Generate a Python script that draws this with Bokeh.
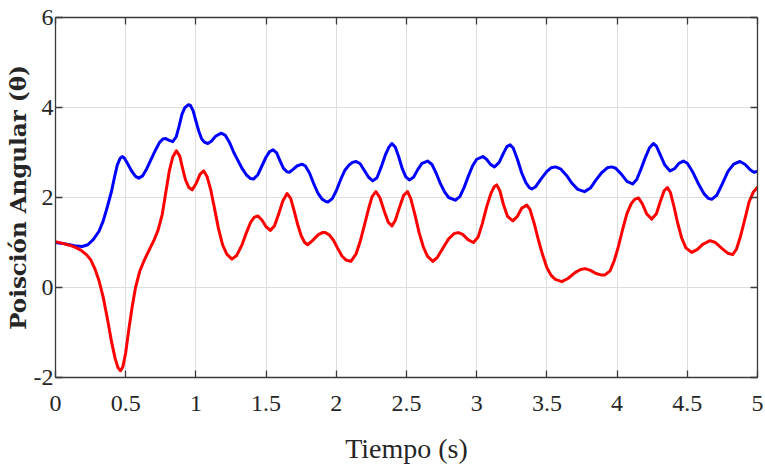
from bokeh.plotting import figure
from bokeh.models import LinearAxis, FixedTicker, Range1d
from bokeh.embed import file_html
from bokeh.resources import INLINE

# ---------------- data ----------------
x_ticks = [0, 0.5, 1, 1.5, 2, 2.5, 3, 3.5, 4, 4.5, 5]
x_tick_labels = ["0", "0.5", "1", "1.5", "2", "2.5", "3", "3.5", "4", "4.5", "5"]
y_ticks = [-2, 0, 2, 4, 6]
y_tick_labels = ["-2", "0", "2", "4", "6"]

t_blue = [0.00, 0.05, 0.10, 0.15, 0.19, 0.23, 0.27, 0.31, 0.34, 0.37, 0.40, 0.42, 0.44, 0.46, 0.475,
          0.49, 0.51, 0.54, 0.57, 0.593, 0.62, 0.65, 0.68, 0.71, 0.74, 0.765, 0.785, 0.81, 0.835,
          0.86, 0.88, 0.90, 0.92, 0.945, 0.96, 0.98, 1.00, 1.02, 1.04, 1.06, 1.085, 1.11, 1.14,
          1.18, 1.21, 1.24, 1.27, 1.30, 1.33, 1.36, 1.39, 1.41, 1.44, 1.47, 1.50, 1.525, 1.55,
          1.575, 1.60, 1.625, 1.65, 1.665, 1.69, 1.72, 1.755, 1.78, 1.81, 1.84, 1.87, 1.90, 1.925,
          1.94, 1.97, 2.00, 2.03, 2.06, 2.09, 2.115, 2.142, 2.17, 2.20, 2.23, 2.26, 2.29, 2.32,
          2.35, 2.375, 2.396, 2.42, 2.445, 2.47, 2.495, 2.52, 2.55, 2.58, 2.61, 2.65, 2.68, 2.71,
          2.74, 2.77, 2.80, 2.847, 2.88, 2.91, 2.94, 2.97, 3.00, 3.044, 3.07, 3.10, 3.127, 3.16,
          3.19, 3.215, 3.238, 3.26, 3.29, 3.32, 3.35, 3.375, 3.393, 3.42, 3.46, 3.50, 3.53, 3.563,
          3.60, 3.64, 3.68, 3.72, 3.768, 3.81, 3.85, 3.89, 3.93, 3.962, 3.99, 4.03, 4.07, 4.111,
          4.14, 4.17, 4.20, 4.23, 4.258, 4.28, 4.31, 4.34, 4.377, 4.41, 4.44, 4.472, 4.50, 4.54,
          4.58, 4.62, 4.65, 4.674, 4.71, 4.75, 4.79, 4.83, 4.875, 4.91, 4.95, 4.975, 5.00]
y_blue = [1.00, 0.98, 0.95, 0.92, 0.91, 0.95, 1.07, 1.25, 1.48, 1.80, 2.15, 2.45, 2.72, 2.87, 2.91,
          2.88, 2.77, 2.60, 2.47, 2.43, 2.48, 2.64, 2.84, 3.04, 3.22, 3.30, 3.31, 3.27, 3.24,
          3.35, 3.58, 3.84, 3.99, 4.06, 4.05, 3.93, 3.70, 3.48, 3.31, 3.23, 3.20, 3.25, 3.36,
          3.43, 3.38, 3.22, 3.00, 2.82, 2.64, 2.50, 2.42, 2.41, 2.50, 2.70, 2.90, 3.02, 3.06,
          2.99, 2.81, 2.64, 2.57, 2.56, 2.62, 2.70, 2.74, 2.70, 2.54, 2.30, 2.09, 1.96, 1.91,
          1.90, 1.97, 2.15, 2.39, 2.60, 2.72, 2.78, 2.80, 2.75, 2.60, 2.45, 2.37, 2.44, 2.68,
          2.95, 3.12, 3.20, 3.12, 2.90, 2.64, 2.46, 2.39, 2.45, 2.62, 2.76, 2.81, 2.74, 2.55,
          2.32, 2.13, 2.00, 1.94, 2.02, 2.22, 2.47, 2.70, 2.85, 2.91, 2.85, 2.73, 2.68, 2.78,
          2.98, 3.13, 3.17, 3.10, 2.85, 2.55, 2.33, 2.22, 2.19, 2.24, 2.42, 2.58, 2.66, 2.68,
          2.63, 2.49, 2.31, 2.18, 2.13, 2.21, 2.39, 2.55, 2.66, 2.68, 2.65, 2.52, 2.36, 2.30,
          2.40, 2.63, 2.88, 3.10, 3.20, 3.14, 2.93, 2.72, 2.59, 2.64, 2.76, 2.81, 2.76, 2.56,
          2.30, 2.08, 1.98, 1.96, 2.05, 2.31, 2.58, 2.74, 2.80, 2.74, 2.61, 2.56, 2.58]

t_red = [0.00, 0.05, 0.10, 0.15, 0.18, 0.22, 0.25, 0.28, 0.31, 0.34, 0.37, 0.40, 0.425, 0.445, 0.463,
         0.48, 0.50, 0.52, 0.545, 0.57, 0.60, 0.63, 0.665, 0.70, 0.73, 0.76, 0.785, 0.81, 0.835,
         0.861, 0.885, 0.905, 0.925, 0.95, 0.973, 1.00, 1.03, 1.056, 1.08, 1.105, 1.13, 1.16,
         1.19, 1.22, 1.257, 1.29, 1.33, 1.36, 1.39, 1.415, 1.442, 1.47, 1.50, 1.53, 1.56, 1.59,
         1.62, 1.649, 1.675, 1.70, 1.725, 1.75, 1.775, 1.796, 1.83, 1.87, 1.90, 1.922, 1.95,
         1.98, 2.01, 2.04, 2.07, 2.104, 2.14, 2.17, 2.20, 2.23, 2.255, 2.282, 2.31, 2.34, 2.37,
         2.396, 2.42, 2.45, 2.48, 2.507, 2.53, 2.56, 2.59, 2.62, 2.65, 2.688, 2.72, 2.76, 2.80,
         2.84, 2.87, 2.90, 2.94, 2.977, 3.01, 3.04, 3.07, 3.10, 3.125, 3.143, 3.165, 3.19, 3.22,
         3.257, 3.29, 3.32, 3.357, 3.38, 3.41, 3.44, 3.47, 3.50, 3.53, 3.56, 3.606, 3.65, 3.70,
         3.74, 3.772, 3.81, 3.85, 3.885, 3.914, 3.95, 3.98, 4.01, 4.04, 4.07, 4.10, 4.125, 4.152,
         4.18, 4.21, 4.247, 4.28, 4.31, 4.335, 4.358, 4.38, 4.405, 4.43, 4.46, 4.49, 4.531, 4.57,
         4.61, 4.662, 4.70, 4.75, 4.79, 4.823, 4.85, 4.88, 4.91, 4.94, 4.97, 5.00]
y_red = [1.02, 0.98, 0.94, 0.88, 0.83, 0.73, 0.62, 0.42, 0.15, -0.22, -0.70, -1.22, -1.58, -1.78, -1.85,
         -1.76, -1.45, -0.98, -0.45, 0.00, 0.36, 0.59, 0.82, 1.04, 1.27, 1.62, 2.10, 2.58, 2.90,
         3.04, 2.92, 2.65, 2.40, 2.22, 2.17, 2.30, 2.52, 2.59, 2.46, 2.18, 1.80, 1.32,
         0.95, 0.74, 0.63, 0.71, 0.96, 1.22, 1.45, 1.56, 1.59, 1.50, 1.35, 1.27, 1.37, 1.64,
         1.93, 2.09, 1.98, 1.70, 1.40, 1.15, 1.00, 0.95, 1.04, 1.17, 1.22, 1.22, 1.17,
         1.05, 0.87, 0.70, 0.61, 0.58, 0.74, 1.02, 1.38, 1.75, 2.02, 2.13, 2.00, 1.71, 1.45,
         1.37, 1.49, 1.78, 2.05, 2.13, 1.98, 1.62, 1.22, 0.90, 0.69, 0.58, 0.67, 0.88, 1.08,
         1.20, 1.22, 1.18, 1.06, 1.00, 1.12, 1.42, 1.78, 2.08, 2.24, 2.28, 2.15, 1.85, 1.58,
         1.48, 1.58, 1.76, 1.83, 1.73, 1.42, 1.05, 0.72, 0.44, 0.27, 0.18, 0.13, 0.20, 0.33,
         0.40, 0.42, 0.38, 0.31, 0.28, 0.28, 0.37, 0.60, 0.92, 1.30, 1.64, 1.86, 1.96, 1.99,
         1.86, 1.64, 1.52, 1.64, 1.93, 2.15, 2.22, 2.11, 1.80, 1.45, 1.10, 0.88, 0.78, 0.84,
         0.96, 1.04, 1.00, 0.86, 0.76, 0.73, 0.85, 1.15, 1.52, 1.90, 2.12, 2.23]

x_label = "Tiempo (s)"
y_label = "Poisción Angular (θ)"

# ---------------- figure ----------------
SERIF = "Liberation Serif"
AXIS_COLOR = "#3a3a3a"

p = figure(width=765, height=474, output_backend="svg", toolbar_location=None,
           x_range=Range1d(0, 5), y_range=Range1d(-2, 6),
           min_border_left=55, min_border_right=8, min_border_top=17, min_border_bottom=97,
           background_fill_color="white", border_fill_color="white")
p.outline_line_color = None

xt = FixedTicker(ticks=x_ticks)
yt = FixedTicker(ticks=y_ticks)


def style_axis(ax, ticker, labels=None):
    ax.ticker = ticker
    ax.axis_line_color = AXIS_COLOR
    ax.axis_line_width = 1.3
    ax.major_tick_line_color = AXIS_COLOR
    ax.major_tick_line_width = 1.3
    ax.major_tick_in = 7
    ax.major_tick_out = 0
    ax.minor_tick_line_color = None
    if labels is not None:
        ax.major_label_overrides = labels
        ax.major_label_text_font = SERIF
        ax.major_label_text_font_size = "24px"
        ax.major_label_text_color = "#262626"
    else:
        ax.major_label_text_font_size = "0px"
        ax.major_label_standoff = 0
        ax.major_label_overrides = {t: "" for t in ticker.ticks}


style_axis(p.xaxis[0], xt, dict(zip(x_ticks, x_tick_labels)))
style_axis(p.yaxis[0], yt, dict(zip(y_ticks, y_tick_labels)))

p.xaxis[0].major_label_standoff = 18
p.xaxis[0].axis_label = x_label
p.xaxis[0].axis_label_text_font = SERIF
p.xaxis[0].axis_label_text_font_size = "28px"
p.xaxis[0].axis_label_text_font_style = "normal"
p.xaxis[0].axis_label_text_color = "#262626"
p.xaxis[0].axis_label_standoff = 19

p.yaxis[0].major_label_standoff = 2
p.yaxis[0].axis_label = y_label
p.yaxis[0].axis_label_text_font = "DejaVu Serif"
p.yaxis[0].axis_label_text_font_size = "23px"
p.yaxis[0].axis_label_text_font_style = "bold"
p.yaxis[0].axis_label_text_color = "#262626"
p.yaxis[0].axis_label_standoff = 0

top_axis = LinearAxis()
style_axis(top_axis, FixedTicker(ticks=x_ticks))
p.add_layout(top_axis, "above")
right_axis = LinearAxis()
style_axis(right_axis, FixedTicker(ticks=y_ticks))
p.add_layout(right_axis, "right")

p.xgrid.ticker = xt
p.ygrid.ticker = yt
for g in (p.xgrid[0], p.ygrid[0]):
    g.grid_line_color = "#dedede"
    g.grid_line_width = 1

p.line(t_blue, y_blue, line_color="#0000ff", line_width=3, line_join="round", line_cap="round")
p.line(t_red, y_red, line_color="#ff0000", line_width=3, line_join="round", line_cap="round")

open("out.html", "w").write(file_html(p, INLINE))
